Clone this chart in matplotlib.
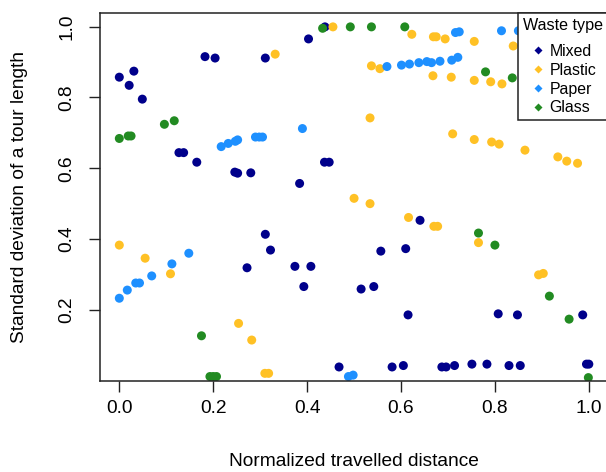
import matplotlib
matplotlib.use("Agg")
import matplotlib.pyplot as plt
from matplotlib.lines import Line2D

plt.rcParams["font.family"] = ["Liberation Sans", "DejaVu Sans"]

# values
mixed_x = [0.438, 0.403, 0.1825, 0.204, 0.311, 0.031, 0.000, 0.021, 0.049, 0.127, 0.137,
           0.165, 0.246, 0.252, 0.280, 0.384, 0.437, 0.447, 0.311, 0.322, 0.272, 0.374,
           0.408, 0.393, 0.468, 0.6405, 0.557, 0.610, 0.515, 0.542, 0.615, 0.807, 0.848,
           0.987, 0.581, 0.605, 0.687, 0.696, 0.714, 0.751, 0.783, 0.830, 0.854, 0.995, 1.000]
mixed_y = [0.999, 0.965, 0.915, 0.911, 0.911, 0.874, 0.857, 0.834, 0.795, 0.644, 0.644,
           0.617, 0.589, 0.586, 0.587, 0.557, 0.617, 0.617, 0.4135, 0.369, 0.319, 0.323,
           0.323, 0.266, 0.039, 0.453, 0.366, 0.373, 0.259, 0.266, 0.186, 0.189, 0.186,
           0.186, 0.039, 0.043, 0.039, 0.039, 0.043, 0.047, 0.047, 0.043, 0.043, 0.047, 0.047]

plastic_x = [0.455, 0.332, 0.623, 0.669, 0.675, 0.694, 0.756, 0.839, 0.537, 0.555, 0.668,
             0.707, 0.756, 0.791, 0.815, 0.534, 0.710, 0.756, 0.793, 0.809, 0.864, 0.934,
             0.953, 0.976, 0.500, 0.534, 0.616, 0.670, 0.678, 0.765, 0.893, 0.903, 0.000,
             0.055, 0.109, 0.254, 0.282, 0.310, 0.318]
plastic_y = [0.999, 0.922, 0.978, 0.971, 0.971, 0.965, 0.958, 0.945, 0.889, 0.881, 0.861,
             0.857, 0.848, 0.844, 0.838, 0.742, 0.697, 0.681, 0.674, 0.668, 0.651, 0.632,
             0.620, 0.614, 0.515, 0.500, 0.461, 0.436, 0.436, 0.390, 0.299, 0.303, 0.383,
             0.346, 0.302, 0.162, 0.115, 0.021, 0.021]

paper_x = [0.217, 0.232, 0.247, 0.252, 0.290, 0.298, 0.305, 0.390, 0.570, 0.601, 0.618,
           0.638, 0.655, 0.665, 0.683, 0.708, 0.721, 0.716, 0.724, 0.814, 0.850, 0.000,
           0.017, 0.035, 0.043, 0.069, 0.112, 0.148, 0.488, 0.498]
paper_y = [0.661, 0.670, 0.676, 0.680, 0.688, 0.688, 0.688, 0.712, 0.887, 0.891, 0.894,
           0.898, 0.901, 0.898, 0.902, 0.905, 0.913, 0.983, 0.985, 0.988, 0.988, 0.233,
           0.256, 0.276, 0.276, 0.296, 0.330, 0.360, 0.012, 0.016]

glass_x = [0.433, 0.492, 0.537, 0.608, 0.780, 0.837, 0.000, 0.019, 0.025, 0.096, 0.117,
           0.175, 0.193, 0.200, 0.207, 0.765, 0.800, 0.916, 0.958, 0.999]
glass_y = [0.995, 0.999, 0.999, 0.999, 0.872, 0.855, 0.684, 0.691, 0.691, 0.724, 0.734,
           0.127, 0.012, 0.012, 0.012, 0.417, 0.383, 0.239, 0.174, 0.009]

labels = ["Mixed", "Plastic", "Paper", "Glass"]
colors = ["#00008B", "#FFC125", "#1E90FF", "#228B22"]
series = [(mixed_x, mixed_y), (plastic_x, plastic_y), (paper_x, paper_y), (glass_x, glass_y)]

xticks = [0.0, 0.2, 0.4, 0.6, 0.8, 1.0]
yticks = [0.2, 0.4, 0.6, 0.8, 1.0]

fig = plt.figure(figsize=(6.06, 4.72), dpi=100)
# plot region runs slightly past the right edge, as in the cropped original
ax = fig.add_axes([99.5 / 606, (472 - 381) / 472, 508.1 / 606, 367.7 / 472])

for (xs, ys), col in zip(series, colors):
    ax.scatter(xs, ys, s=42, color=col, edgecolors="none", zorder=2)

ax.set_xlim(-0.0422, 1.04)
ax.set_ylim(-0.0006, 1.0373)

ax.set_xticks(xticks)
ax.set_xticklabels([f"{t:.1f}" for t in xticks])
ax.set_yticks(yticks)
ax.set_yticklabels([f"{t:.1f}" for t in yticks], rotation=90, va="center")
ax.tick_params(axis="both", length=8, width=1, labelsize=13.8, color="#222222")
ax.tick_params(axis="x", pad=6)
ax.tick_params(axis="y", pad=9.5)

for side in ["left", "bottom", "top", "right"]:
    ax.spines[side].set_linewidth(1.1)
    ax.spines[side].set_color("#222222")

ax.set_xlabel("Normalized travelled distance", fontsize=13.8)
ax.xaxis.label.set_va("center")
ax.xaxis.set_label_coords(0.5, -0.2176)
ax.set_ylabel("Standard deviation of a tour length", fontsize=13.8)
ax.yaxis.label.set_va("center")
ax.yaxis.set_label_coords(-0.1565, 0.5)

handles = [Line2D([], [], ls="none", marker="D", ms=3.6, color=c, mec="none") for c in colors]
leg = ax.legend(handles, labels, title="Waste type", loc="upper left",
                bbox_to_anchor=(0.824, 1.0), borderaxespad=0, fontsize=11.4,
                title_fontsize=11.6, alignment="left", fancybox=False, framealpha=1,
                edgecolor="#222222", borderpad=0.3, handlelength=1.85,
                handletextpad=-0.16, labelspacing=0.24)
leg.get_frame().set_linewidth(1.1)
leg.set_zorder(5)
# wider gap between the title and the first entry, as R draws it
leg._legend_box.sep = 7.9

fig.savefig("out.png", dpi=100)
